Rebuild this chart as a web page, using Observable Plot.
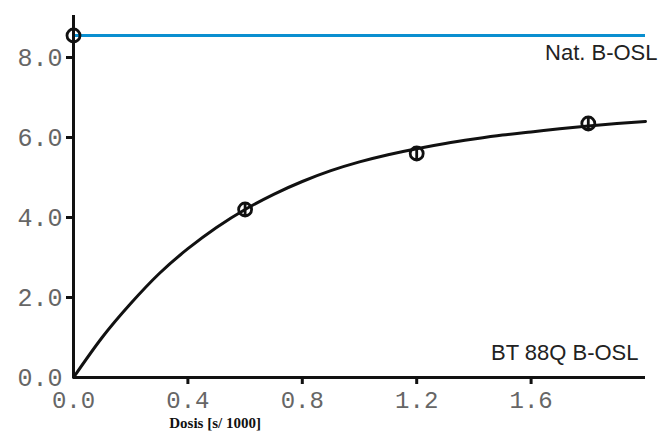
<!DOCTYPE html>
<html>
<head>
<meta charset="utf-8">
<script src="https://cdn.jsdelivr.net/npm/d3@7"></script>
<script src="https://cdn.jsdelivr.net/npm/@observablehq/plot@0.6"></script>
<style>
  html, body { margin: 0; padding: 0; background: #fff; }
</style>
</head>
<body>
<div id="chart"></div>
<script>
// Measured points (dose in s/1000, signal)
const pointDose = [0.0, 0.6, 1.2, 1.8];
const pointSignal = [8.55, 4.2, 5.6, 6.35];

// Fitted growth curve
const curveDose = [0, 0.1, 0.2, 0.3, 0.4, 0.5, 0.6, 0.7, 0.8, 0.9, 1.0, 1.1, 1.2, 1.3, 1.4, 1.5, 1.6, 1.7, 1.8, 1.9, 2.0];
const curveSignal = [0, 1.0, 1.85, 2.6, 3.22, 3.75, 4.2, 4.58, 4.9, 5.17, 5.39, 5.57, 5.72, 5.85, 5.96, 6.06, 6.14, 6.22, 6.29, 6.35, 6.4];

// Natural signal level
const naturalLevel = [8.55];

const xTicks = [0, 0.4, 0.8, 1.2, 1.6];
const yTicks = [0, 2, 4, 6, 8];
const xLabel = "Dosis [s/ 1000]";
const xLabelAt = [0.495];
const natLabel = "Nat. B-OSL";
const sampleLabel = "BT 88Q B-OSL";

const points = pointDose.map((d, i) => ({dose: d, signal: pointSignal[i]}));
const curve = curveDose.map((d, i) => ({dose: d, signal: curveSignal[i]}));

const phi = {
  draw(ctx, size) {
    const r = Math.sqrt(size / Math.PI);
    ctx.moveTo(r, 0);
    ctx.arc(0, 0, r, 0, 2 * Math.PI);
    ctx.moveTo(0, -r);
    ctx.lineTo(0, r);
  }
};

const fmt = d3.format(".1f");
const tickFont = "'Liberation Mono', 'Courier New', monospace";

const chart = Plot.plot({
  width: 670,
  height: 432,
  marginLeft: 73,
  marginRight: 25,
  marginTop: 15,
  marginBottom: 55,
  style: {background: "#fff", overflow: "visible"},
  x: {domain: [0, 2.0], label: null},
  y: {domain: [0, 9.05], label: null},
  marks: [
    Plot.ruleY(naturalLevel, {stroke: "#0a8fd0", strokeWidth: 3}),
    Plot.line(curve, {x: "dose", y: "signal", curve: "natural", stroke: "#111", strokeWidth: 3}),
    Plot.dot(points, {x: "dose", y: "signal", symbol: phi, r: 6.5, stroke: "#111", strokeWidth: 2.8, fill: "none"}),
    Plot.ruleX([0], {stroke: "#111", strokeWidth: 3}),
    Plot.ruleY([0], {stroke: "#111", strokeWidth: 3}),
    // tick marks (no tick at origin)
    Plot.axisX({ticks: xTicks.filter(d => d > 0), tickSize: 7, tickFormat: () => "", strokeWidth: 3, stroke: "#111", tickPadding: 0, label: null}),
    Plot.axisY({ticks: yTicks.filter(d => d > 0), tickSize: 7, tickFormat: () => "", strokeWidth: 3, stroke: "#111", tickPadding: 0, label: null}),
    // tick labels
    Plot.axisX({ticks: xTicks, tickSize: 0, tickPadding: 13, tickFormat: fmt, fontSize: 24, fontFamily: tickFont, fill: "#666", label: null}),
    Plot.axisY({ticks: yTicks, tickSize: 0, tickPadding: 11, tickFormat: fmt, fontSize: 25, fontFamily: tickFont, fill: "#666", label: null}),
    // axis title
    Plot.text(xLabelAt, {x: d => d, frameAnchor: "bottom", dy: 50, text: () => xLabel, fontFamily: "'Liberation Serif', 'Times New Roman', serif", fontWeight: "bold", fontSize: 15, fill: "#111"}),
    // annotations
    Plot.text(naturalLevel, {x: () => 2.0, y: d => d, text: () => natLabel, textAnchor: "end", dx: 12, dy: 17, fontFamily: "'Liberation Sans', Arial, sans-serif", fontSize: 22, fill: "#222"}),
    Plot.text([0], {x: () => 2.0, y: d => d, text: () => sampleLabel, textAnchor: "end", dx: -7, dy: -25, fontFamily: "'Liberation Sans', Arial, sans-serif", fontSize: 22, fill: "#222"})
  ]
});

document.getElementById("chart").appendChild(chart);
</script>
</body>
</html>
